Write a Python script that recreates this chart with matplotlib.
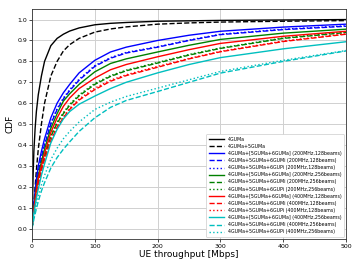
import matplotlib
matplotlib.use("Agg")
import matplotlib.pyplot as plt

x = [0, 1, 2, 3, 5, 7, 10, 15, 20, 30, 40, 50, 60, 75, 100, 125, 150, 200, 250, 300, 400, 500]

labels = [
    "4GUMa",
    "4GUMa+5GUMa",
    "4GUMa+[5GUMa+6GUMa] (200MHz,128beams)",
    "4GUMa+5GUMa+6GUMi (200MHz,128beams)",
    "4GUMa+5GUMa+6GUPi (200MHz,128beams)",
    "4GUMa+[5GUMa+6GUMa] (200MHz,256beams)",
    "4GUMa+5GUMa+6GUMi (200MHz,256beams)",
    "4GUMa+5GUMa+6GUPi (200MHz,256beams)",
    "4GUMa+[5GUMa+6GUMa] (400MHz,128beams)",
    "4GUMa+5GUMa+6GUMi (400MHz,128beams)",
    "4GUMa+5GUMa+6GUPi (400MHz,128beams)",
    "4GUMa+[5GUMa+6GUMa] (400MHz,256beams)",
    "4GUMa+5GUMa+6GUMi (400MHz,256beams)",
    "4GUMa+5GUMa+6GUPi (400MHz,256beams)",
]

cdf_4g   = [0, 0.15, 0.28, 0.37, 0.48, 0.56, 0.64, 0.73, 0.80, 0.875, 0.91, 0.93, 0.945, 0.96, 0.975, 0.982, 0.986, 0.992, 0.994, 0.996, 0.998, 1.0]
cdf_4g5g = [0, 0.04, 0.08, 0.12, 0.20, 0.28, 0.38, 0.50, 0.60, 0.73, 0.80, 0.85, 0.88, 0.91, 0.94, 0.955, 0.965, 0.978, 0.984, 0.988, 0.992, 0.995]
cdf_b_ma = [0, 0.04, 0.08, 0.12, 0.18, 0.235, 0.30, 0.37, 0.43, 0.53, 0.60, 0.65, 0.69, 0.745, 0.805, 0.845, 0.868, 0.900, 0.925, 0.944, 0.964, 0.978]
cdf_b_mi = [0, 0.035, 0.07, 0.10, 0.16, 0.21, 0.27, 0.34, 0.40, 0.50, 0.57, 0.62, 0.66, 0.71, 0.776, 0.815, 0.840, 0.868, 0.900, 0.928, 0.952, 0.968]
cdf_b_pi = [0, 0.035, 0.07, 0.105, 0.165, 0.215, 0.275, 0.345, 0.405, 0.505, 0.575, 0.625, 0.665, 0.715, 0.780, 0.818, 0.843, 0.870, 0.902, 0.930, 0.954, 0.970]
cdf_g_ma = [0, 0.03, 0.065, 0.095, 0.15, 0.195, 0.25, 0.32, 0.38, 0.48, 0.55, 0.61, 0.645, 0.69, 0.750, 0.790, 0.812, 0.845, 0.877, 0.905, 0.935, 0.954]
cdf_g_mi = [0, 0.028, 0.055, 0.085, 0.13, 0.17, 0.22, 0.29, 0.345, 0.44, 0.505, 0.55, 0.59, 0.635, 0.690, 0.728, 0.755, 0.792, 0.830, 0.862, 0.910, 0.938]
cdf_g_pi = [0, 0.03, 0.058, 0.09, 0.135, 0.175, 0.225, 0.295, 0.35, 0.445, 0.51, 0.555, 0.595, 0.64, 0.695, 0.732, 0.758, 0.795, 0.833, 0.864, 0.912, 0.940]
cdf_r_ma = [0, 0.03, 0.06, 0.09, 0.14, 0.185, 0.24, 0.30, 0.36, 0.46, 0.53, 0.585, 0.625, 0.67, 0.720, 0.760, 0.785, 0.822, 0.856, 0.886, 0.920, 0.944]
cdf_r_mi = [0, 0.027, 0.052, 0.08, 0.12, 0.16, 0.21, 0.275, 0.33, 0.42, 0.485, 0.53, 0.57, 0.615, 0.665, 0.705, 0.732, 0.772, 0.812, 0.846, 0.895, 0.930]
cdf_r_pi = [0, 0.028, 0.055, 0.083, 0.125, 0.165, 0.215, 0.28, 0.335, 0.425, 0.49, 0.535, 0.575, 0.62, 0.672, 0.710, 0.736, 0.776, 0.814, 0.848, 0.897, 0.932]
cdf_c_ma = [0, 0.025, 0.05, 0.075, 0.11, 0.145, 0.19, 0.255, 0.31, 0.41, 0.475, 0.525, 0.56, 0.595, 0.634, 0.670, 0.700, 0.745, 0.785, 0.818, 0.860, 0.894]
cdf_c_mi = [0, 0.015, 0.03, 0.045, 0.07, 0.095, 0.13, 0.18, 0.22, 0.29, 0.34, 0.38, 0.415, 0.465, 0.530, 0.580, 0.613, 0.656, 0.700, 0.744, 0.800, 0.850]
cdf_c_pi = [0, 0.018, 0.036, 0.054, 0.085, 0.115, 0.155, 0.21, 0.255, 0.33, 0.385, 0.43, 0.465, 0.51, 0.570, 0.605, 0.632, 0.672, 0.712, 0.752, 0.805, 0.852]

series = [cdf_4g, cdf_4g5g, cdf_b_ma, cdf_b_mi, cdf_b_pi, cdf_g_ma, cdf_g_mi, cdf_g_pi,
          cdf_r_ma, cdf_r_mi, cdf_r_pi, cdf_c_ma, cdf_c_mi, cdf_c_pi]
colors = ['k', 'k', 'b', 'b', 'b', 'g', 'g', 'g', 'r', 'r', 'r', 'c', 'c', 'c']
styles = ['-', '--', '-', '--', ':', '-', '--', ':', '-', '--', ':', '-', '--', ':']

fig = plt.figure(figsize=(3.57, 2.68), dpi=100)
ax = fig.add_axes([0.0896, 0.108, 0.880, 0.858])

for y, c, ls, lab in zip(series, colors, styles, labels):
    ax.plot(x, y, color=c, linestyle=ls, linewidth=1.0, label=lab)

ax.set_xlim(0, 500)
ax.set_ylim(-0.05, 1.05)
ax.set_xticks([0, 100, 200, 300, 400, 500])
ax.set_yticks([i / 10 for i in range(11)])
ax.tick_params(labelsize=4.5, length=2, width=0.5, pad=1.5)
ax.grid(True, color='#d0d0d0', linewidth=0.7)
ax.set_xlabel("UE throughput [Mbps]", fontsize=6.5, labelpad=1)
ax.set_ylabel("CDF", fontsize=6.5, labelpad=2)
for s in ax.spines.values():
    s.set_linewidth(0.6)
    s.set_color('#333333')

leg = ax.legend(loc='lower right', fontsize=3.4, handlelength=3.2, labelspacing=0.45,
                borderpad=0.5, handletextpad=0.8, framealpha=1.0, edgecolor='#cccccc',
                fancybox=True)
leg.get_frame().set_linewidth(0.5)

fig.savefig("out.png", dpi=100)
